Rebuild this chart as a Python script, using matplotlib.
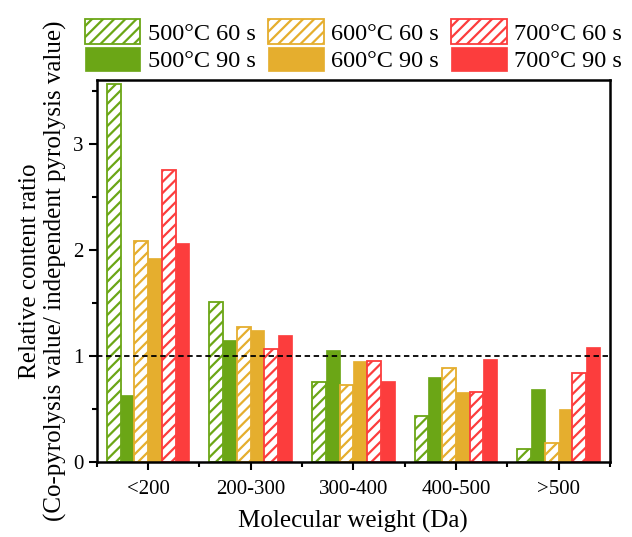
import numpy as np
import matplotlib
matplotlib.use("Agg")
import matplotlib.pyplot as plt
from matplotlib.ticker import MultipleLocator

plt.rcParams['font.family'] = ['Liberation Serif', 'DejaVu Serif']
plt.rcParams['hatch.linewidth'] = 1.6

groups = ['<200', '200-300', '300-400', '400-500', '>500']
labels = ['500°C 60 s', '500°C 90 s', '600°C 60 s', '600°C 90 s', '700°C 60 s', '700°C 90 s']
v500_60 = [3.56, 1.51, 0.75, 0.43, 0.12]
v500_90 = [0.63, 1.15, 1.05, 0.80, 0.69]
v600_60 = [2.08, 1.27, 0.72, 0.88, 0.18]
v600_90 = [1.92, 1.24, 0.95, 0.66, 0.50]
v700_60 = [2.75, 1.06, 0.95, 0.66, 0.84]
v700_90 = [2.06, 1.20, 0.76, 0.97, 1.08]
series = [v500_60, v500_90, v600_60, v600_90, v700_60, v700_90]

green = '#6BA616'
orange = '#E5AE2E'
red = '#FC3D3D'
colors = [green, green, orange, orange, red, red]
hatched = [True, False, True, False, True, False]

fig = plt.figure(figsize=(6.32, 5.37), dpi=100)
ax = fig.add_axes([0.153, 0.140, 0.812, 0.711])

x = np.arange(len(groups))
w = 0.134
for i, (vals, c, h) in enumerate(zip(series, colors, hatched)):
    pos = x + (i - 2.5) * w
    if h:
        ax.bar(pos, vals, w, facecolor='white', edgecolor=c, hatch='///',
               linewidth=1.3, label=labels[i])
    else:
        ax.bar(pos, vals, w, color=c, edgecolor=c, linewidth=0.5, label=labels[i])

ax.axhline(1, color='black', linestyle='--', linewidth=1.3, dashes=(3, 2))

ax.set_xlim(-0.5, 4.5)
ax.set_ylim(0, 3.6)
ax.set_xticks(x)
ax.set_xticklabels(groups)
ax.xaxis.set_minor_locator(MultipleLocator(1, offset=0.5))
ax.yaxis.set_major_locator(MultipleLocator(1))
ax.yaxis.set_minor_locator(MultipleLocator(0.5))
ax.tick_params(which='major', direction='out', length=6, width=1.5, labelsize=15)
ax.tick_params(which='minor', direction='out', length=3.5, width=1.5)
ax.tick_params(axis='x', pad=7)
for s in ax.spines.values():
    s.set_linewidth(1.8)

ax.set_xlabel('Molecular weight (Da)', fontsize=18, labelpad=8)
ax.set_ylabel('Relative content ratio\n(Co-pyrolysis value/ independent pyrolysis value)',
              fontsize=18, labelpad=4)

ax.legend(loc='lower center', bbox_to_anchor=(0.5, 1.0), ncol=3, frameon=False,
          fontsize=17.5, handlelength=2.3, handleheight=1.15, columnspacing=0.5,
          handletextpad=0.3, labelspacing=0.08, borderpad=0.0, borderaxespad=0.33)

fig.savefig('out.png', dpi=100)
